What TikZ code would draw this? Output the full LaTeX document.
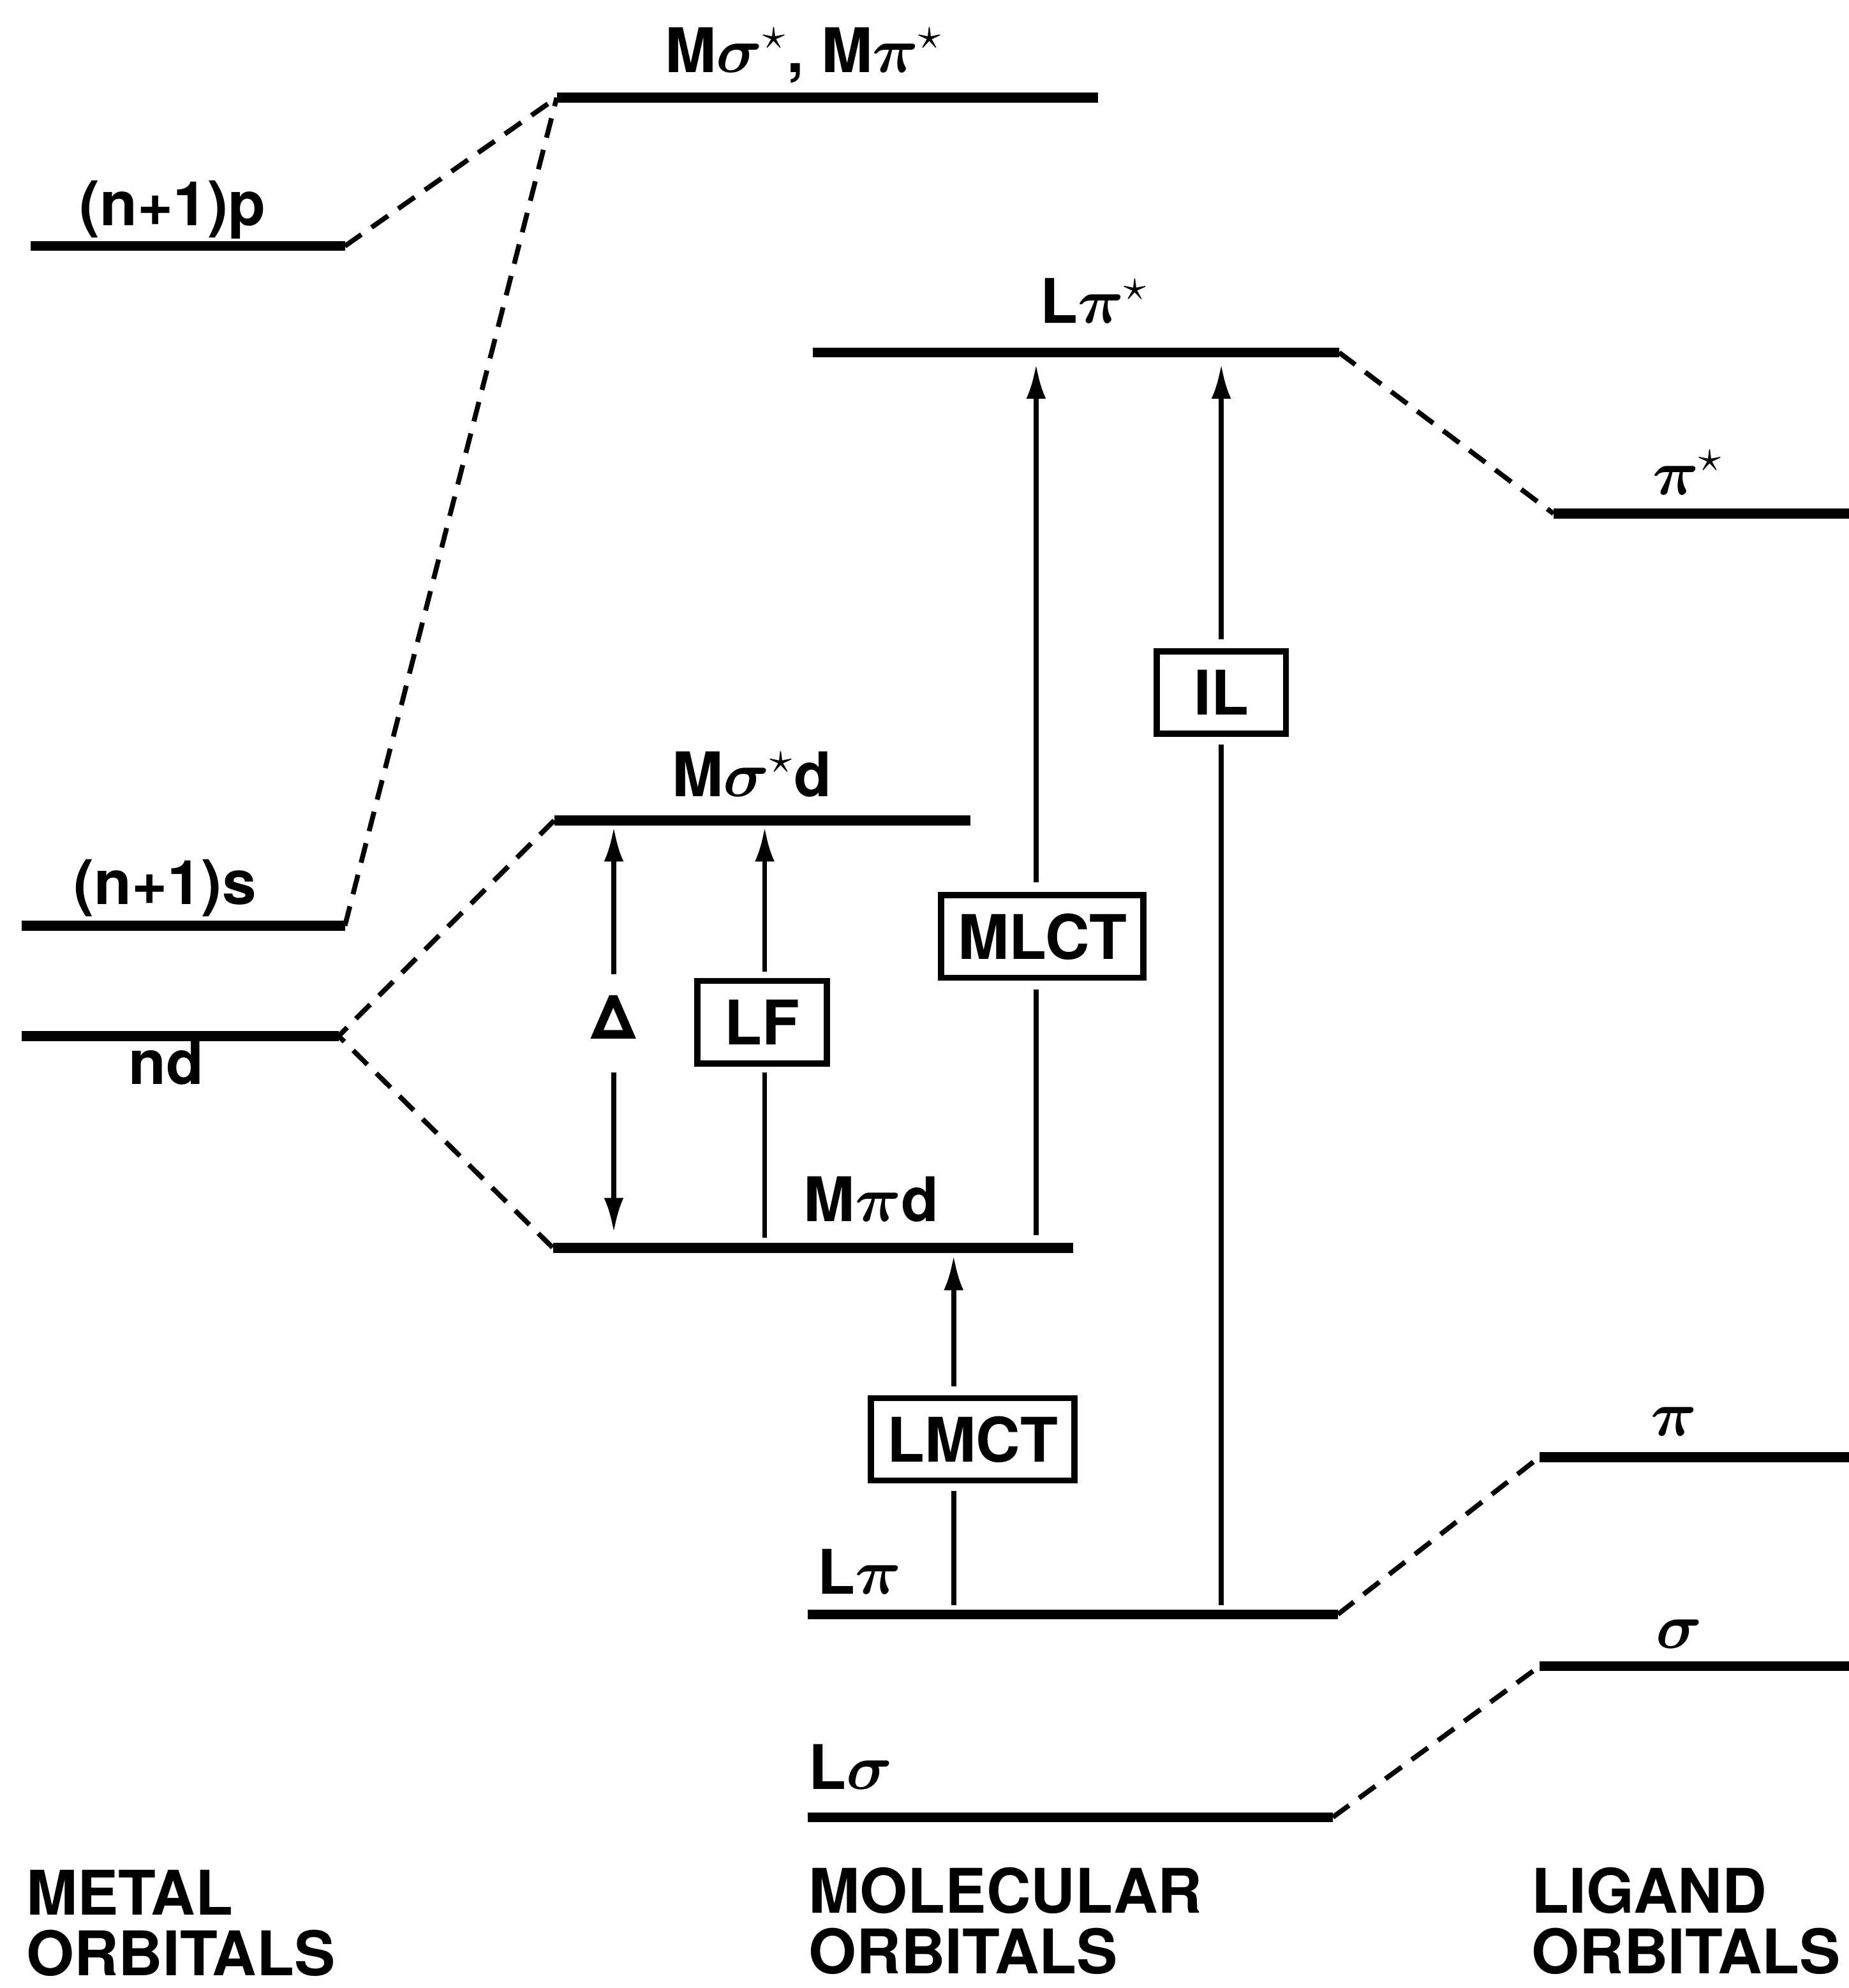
\documentclass[tikz,border=0pt]{standalone}
\usepackage{amsmath}
\usepackage{fontspec}
\setmainfont{TeX Gyre Heros}
\usetikzlibrary{arrows.meta}
\begin{document}
\begin{tikzpicture}[>={Latex[length=7.8pt,width=4.4pt]},
  level/.style={line width=2.2pt},
  link/.style={line width=1.1pt, dash pattern=on 4.5pt off 2.8pt},
  trans/.style={line width=1.1pt},
  tbox/.style={draw, line width=1.4pt, minimum width=1.02cm, minimum height=0.65cm, inner xsep=0.13cm, inner ysep=0pt},
  lab/.style={inner sep=0pt, anchor=base},
  title/.style={inner sep=0pt, anchor=north west, align=left},
  every node/.style={font=\fontsize{13.8}{13.6}\selectfont\bfseries}]
\useasboundingbox (0,0) rectangle (14.58,-15.677);
% Energy levels: name / left x / right x / height
\foreach \n/\xa/\xb/\y in {np/0.24/2.72/-1.94, ns/0.17/2.72/-7.30, nd/0.17/2.67/-8.17,
  Mst/4.39/8.66/-0.77, Msd/4.37/7.65/-6.47, Mpd/4.36/8.46/-9.84,
  Lps/6.41/10.56/-2.78, Lp/6.37/10.55/-12.73, Ls/6.37/10.51/-14.33,
  ps/12.25/14.58/-4.05, p/12.14/14.58/-11.49, s/12.14/14.58/-13.14} {
  \coordinate (\n-w) at (\xa,\y);
  \coordinate (\n-e) at (\xb,\y);
  \draw[level] (\n-w) -- (\n-e);
}
% Correlation lines
\draw[link] (np-e) -- (Mst-w);
\draw[link] (ns-e) -- (Mst-w);
\draw[link] (Msd-w) -- (nd-e) -- (Mpd-w);
\draw[link] (Lps-e) -- (ps-w);
\draw[link] (Lp-e) -- (p-w);
\draw[link] (Ls-e) -- (s-w);
% Level labels
\node[lab] (npL) at (1.36,-1.78) {(n+1)p};
\node[lab] (MstL) at (6.34,-0.57) {M$\boldsymbol{\sigma}^\star$, M$\boldsymbol{\pi}^\star$};
\node[lab] (LpsL) at (8.63,-2.55) {L$\boldsymbol{\pi}^\star$};
\node[lab] (psL) at (13.31,-3.90) {$\boldsymbol{\pi}^\star$};
\node[lab] (nsL) at (1.30,-7.13) {(n+1)s};
\node[lab] (ndL) at (1.31,-8.55) {nd};
\node[lab] (MsdL) at (5.93,-6.28) {M$\boldsymbol{\sigma}^\star$d};
\node[lab] (MpdL) at (6.87,-9.63) {M$\boldsymbol{\pi}$d};
\node[lab, anchor=base west] (LpL) at (6.44,-12.57) {L$\boldsymbol{\pi}$};
\node[lab] (pL) at (13.20,-11.32) {$\boldsymbol{\pi}$};
\node[lab] (sL) at (13.24,-13.00) {$\boldsymbol{\sigma}$};
\node[lab, anchor=base west] (LsL) at (6.37,-14.11) {L$\boldsymbol{\sigma}$};
% Column titles
\node[title] (metal) at (0.20,-14.74) {METAL\\ORBITALS};
\node[title] (molec) at (6.37,-14.72) {MOLECULAR\\ORBITALS};
\node[title] (ligand) at (12.07,-14.72) {LIGAND\\ORBITALS};
% Delta (splitting of d levels)
\coordinate (d0) at (4.84,-9.72);
\coordinate (d1) at (4.84,-6.52);
\node[inner sep=0.16cm] (delta) at (4.84,-8.02) {Δ};
\draw[trans, ->] (delta.north) -- (d1);
\draw[trans, ->] (delta.south) ++(0,-0.1) -- (d0);
% LF transition
\node[tbox] (LF) at (6.01,-8.06) {LF};
\coordinate (lf0) at (6.03,-9.76);
\coordinate (lf1) at (6.03,-6.52);
\draw[trans, shorten >=0.05cm] (lf0) -- (lf0 |- LF.south);
\draw[trans, ->, shorten <=0.05cm] (lf0 |- LF.north) -- (lf1);
% MLCT transition
\node[tbox] (MLCT) at (8.22,-7.385) {MLCT};
\coordinate (ml0) at (8.17,-9.74);
\coordinate (ml1) at (8.17,-2.87);
\draw[trans, shorten >=0.07cm] (ml0) -- (ml0 |- MLCT.south);
\draw[trans, ->, shorten <=0.08cm] (ml0 |- MLCT.north) -- (ml1);
% LMCT transition
\node[tbox] (LMCT) at (7.67,-11.35) {LMCT};
\coordinate (lm0) at (7.52,-12.66);
\coordinate (lm1) at (7.52,-9.90);
\draw[trans, shorten >=0.06cm] (lm0) -- (lm0 |- LMCT.south);
\draw[trans, ->, shorten <=0.07cm] (lm0 |- LMCT.north) -- (lm1);
% IL transition
\node[tbox] (IL) at (9.63,-5.46) {IL};
\coordinate (il0) at (9.63,-12.66);
\coordinate (il1) at (9.63,-2.87);
\draw[trans, shorten >=0.06cm] (il0) -- (il0 |- IL.south);
\draw[trans, ->, shorten <=0.07cm] (il0 |- IL.north) -- (il1);
\end{tikzpicture}
\end{document}
